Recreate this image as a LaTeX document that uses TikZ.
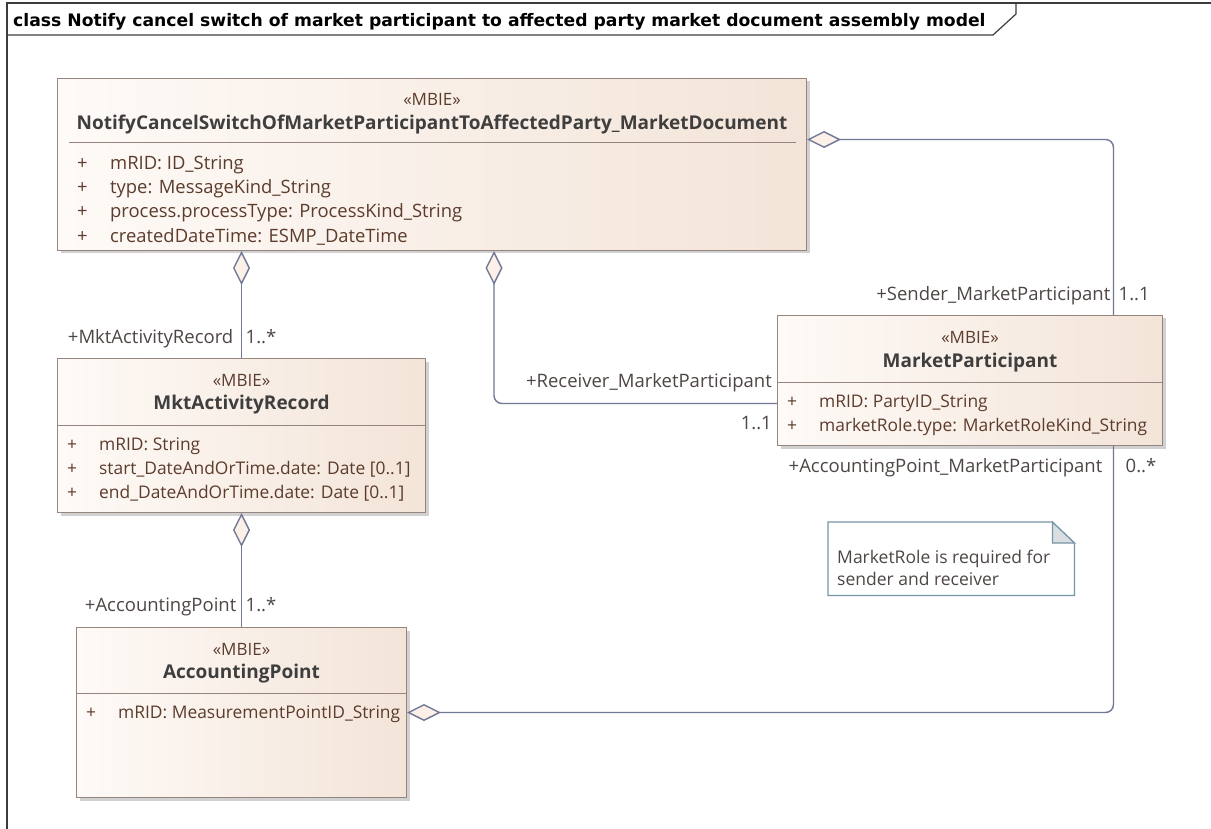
\documentclass[tikz,border=0pt]{standalone}
\usepackage{fontspec}
\setmainfont{Open Sans}
\newfontfamily\titlefont{DejaVu Sans}
\usetikzlibrary{arrows.meta,calc,positioning,shadows}
\definecolor{frameline}{RGB}{60,60,60}
\definecolor{boxline}{RGB}{150,132,126}
\definecolor{boxleft}{RGB}{254,250,247}
\definecolor{boxright}{RGB}{243,228,216}
\definecolor{attrtext}{RGB}{92,60,44}
\definecolor{nametext}{RGB}{62,62,62}
\definecolor{roletext}{RGB}{78,70,68}
\definecolor{linkline}{RGB}{112,120,148}
\definecolor{diafill}{RGB}{252,240,232}
\definecolor{noteline}{RGB}{118,150,166}
\definecolor{notefold}{RGB}{218,222,226}

\begin{document}
\begin{tikzpicture}[
  x=1pt,y=-1pt,
  frame/.style={draw=frameline,line width=1.2pt},
  umlbox/.style={draw=boxline,line width=1pt,left color=boxleft,right color=boxright,anchor=north west,inner sep=0pt,
    drop shadow={shadow xshift=3pt,shadow yshift=-3pt,fill=black!40,opacity=0.45}},
  sep/.style={draw=boxline,line width=1pt},
  stereo/.style={text=attrtext,anchor=base,inner sep=0pt,font=\fontsize{17}{19}\selectfont},
  clsname/.style={text=nametext,anchor=base,inner sep=0pt,font=\bfseries\fontsize{19}{22}\selectfont},
  attr/.style={text=attrtext,anchor=base west,inner sep=0pt,font=\fontsize{17.4}{20}\selectfont},
  role/.style={text=roletext,inner sep=0pt,font=\fontsize{18.5}{21}\selectfont},
  agg/.style={draw=linkline,line width=1.4pt,rounded corners=8pt},
  aggstart/.style={agg,{Diamond[length=34pt,width=17pt,fill=diafill]}-},
  aggend/.style={agg,-{Diamond[length=34pt,width=17pt,fill=diafill]}},
  notebox/.style={anchor=north west,inner sep=0pt},
  noteline/.style={draw=noteline,line width=1.2pt},
  notetext/.style={text=roletext,anchor=base west,inner sep=0pt,font=\fontsize{17.5}{20}\selectfont}
]
  \useasboundingbox[fill=white] (0,0) rectangle (1211,829);

  % diagram frame
  \draw[frame] (7,829) -- (7,3) -- (1211,3);
  \draw[frame] (7,35) -- (993,35) -- (1016,14) -- (1016,3);
  \node[anchor=base west,inner sep=0pt,font=\titlefont\bfseries\fontsize{17.2}{20}\selectfont] (title) at (13,26.5)
    {class Notify cancel switch of market participant to affected party market document assembly model};

  % market document
  \node[umlbox,minimum width=749pt,minimum height=172pt] (doc) at (57,78) {};
  \node[stereo] (doc-st) at ($(doc.north)+(0,28)$) {«MBIE»};
  \node[clsname] (doc-nm) at ($(doc.north)+(0,52)$) {NotifyCancelSwitchOfMarketParticipantToAffectedParty\_MarketDocument};
  \draw[sep] ($(doc.north west)+(12,65)$) -- ($(doc.north east)+(-11,65)$);
  \foreach \t [count=\i] in {mRID: ID\_String, type: MessageKind\_String,
      process.processType: ProcessKind\_String, createdDateTime: ESMP\_DateTime}
    \node[attr,font=\fontsize{18.4}{20}\selectfont] (doc-a\i) at ($(doc.north west)+(20,67+24.3*\i)$) {\makebox[33pt][l]{+}\t};

  % activity record
  \node[umlbox,minimum width=368pt,minimum height=154pt] (mar) at (57,358) {};
  \node[stereo] (mar-st) at ($(mar.north)+(0,28)$) {«MBIE»};
  \node[clsname] (mar-nm) at ($(mar.north)+(0,51)$) {MktActivityRecord};
  \draw[sep] ($(mar.north west)+(0,67)$) -- ($(mar.north east)+(0,67)$);
  \foreach \t [count=\i] in {mRID: String, {start\_DateAndOrTime.date: Date [0..1]},
      {end\_DateAndOrTime.date: Date [0..1]}}
    \node[attr] (mar-a\i) at ($(mar.north west)+(10,68+24*\i)$) {\makebox[32pt][l]{+}\t};

  % market participant
  \node[umlbox,minimum width=385pt,minimum height=130pt] (mp) at (777,315) {};
  \node[stereo] (mp-st) at ($(mp.north)+(0,29)$) {«MBIE»};
  \node[clsname] (mp-nm) at ($(mp.north)+(0,52)$) {MarketParticipant};
  \draw[sep] ($(mp.north west)+(0,67)$) -- ($(mp.north east)+(0,67)$);
  \foreach \t [count=\i] in {mRID: PartyID\_String, marketRole.type: MarketRoleKind\_String}
    \node[attr] (mp-a\i) at ($(mp.north west)+(10,68+24*\i)$) {\makebox[32pt][l]{+}\t};

  % accounting point
  \node[umlbox,minimum width=330pt,minimum height=170pt] (ap) at (76,627) {};
  \node[stereo] (ap-st) at ($(ap.north)+(0,28)$) {«MBIE»};
  \node[clsname] (ap-nm) at ($(ap.north)+(0,51)$) {AccountingPoint};
  \draw[sep] ($(ap.north west)+(0,66)$) -- ($(ap.north east)+(0,66)$);
  \node[attr] (ap-a1) at ($(ap.north west)+(10,91)$) {\makebox[32pt][l]{+}mRID: MeasurementPointID\_String};

  % aggregations
  \draw[aggstart] (mar.north |- doc.south) -- (mar.north);
  \draw[aggstart] ([xshift=62pt]doc.south) |- ([yshift=-23pt]mp.west);
  \draw[aggstart] ([yshift=25pt]doc.east) -| ([xshift=143.5pt]mp.north);
  \draw[aggend] ([xshift=143.5pt]mp.south) |- (ap.east);
  \draw[aggstart] (mar.south) -- (ap.north);

  % role names
  \node[role,anchor=base east] (r-mar) at ($(mar.north)+(-8,-14)$) {+MktActivityRecord};
  \node[role,anchor=base west] (m-mar) at ($(mar.north)+(4,-14)$) {1..*};
  \node[role,anchor=base east] (r-rcv) at ($(mp.west)+(-5,7)$) {+Receiver\_MarketParticipant};
  \node[role,anchor=base east] (m-rcv) at ($(mp.west)+(-5,49)$) {1..1};
  \node[role,anchor=base east] (r-snd) at ($(mp.north)+(140.5,-14)$) {+Sender\_MarketParticipant};
  \node[role,anchor=base west] (m-snd) at ($(mp.north)+(148.5,-14)$) {1..1};
  \node[role,anchor=base east] (r-apm) at ($(mp.south)+(132.5,26)$) {+AccountingPoint\_MarketParticipant};
  \node[role,anchor=base west] (m-apm) at ($(mp.south)+(155.5,26)$) {0..*};
  \node[role,anchor=base east] (r-ap) at ($(ap.north)+(-5,-16)$) {+AccountingPoint};
  \node[role,anchor=base west] (m-ap) at ($(ap.north)+(4,-16)$) {1..*};

  % note
  \node[notebox,minimum width=246pt,minimum height=73pt] (note) at (828,522) {};
  \draw[noteline] (note.north west) -- ([xshift=-22pt]note.north east) -- ([yshift=-21pt]note.north east)
    -- (note.south east) -- (note.south west) -- cycle;
  \filldraw[noteline,fill=notefold] ([xshift=-22pt]note.north east) -- ([xshift=-22pt,yshift=-21pt]note.north east)
    -- ([yshift=-21pt]note.north east) -- cycle;
  \node[notetext] (note-l1) at ($(note.north west)+(9,41)$) {MarketRole is required for};
  \node[notetext] (note-l2) at ($(note.north west)+(9,63)$) {sender and receiver};
\end{tikzpicture}
\end{document}
